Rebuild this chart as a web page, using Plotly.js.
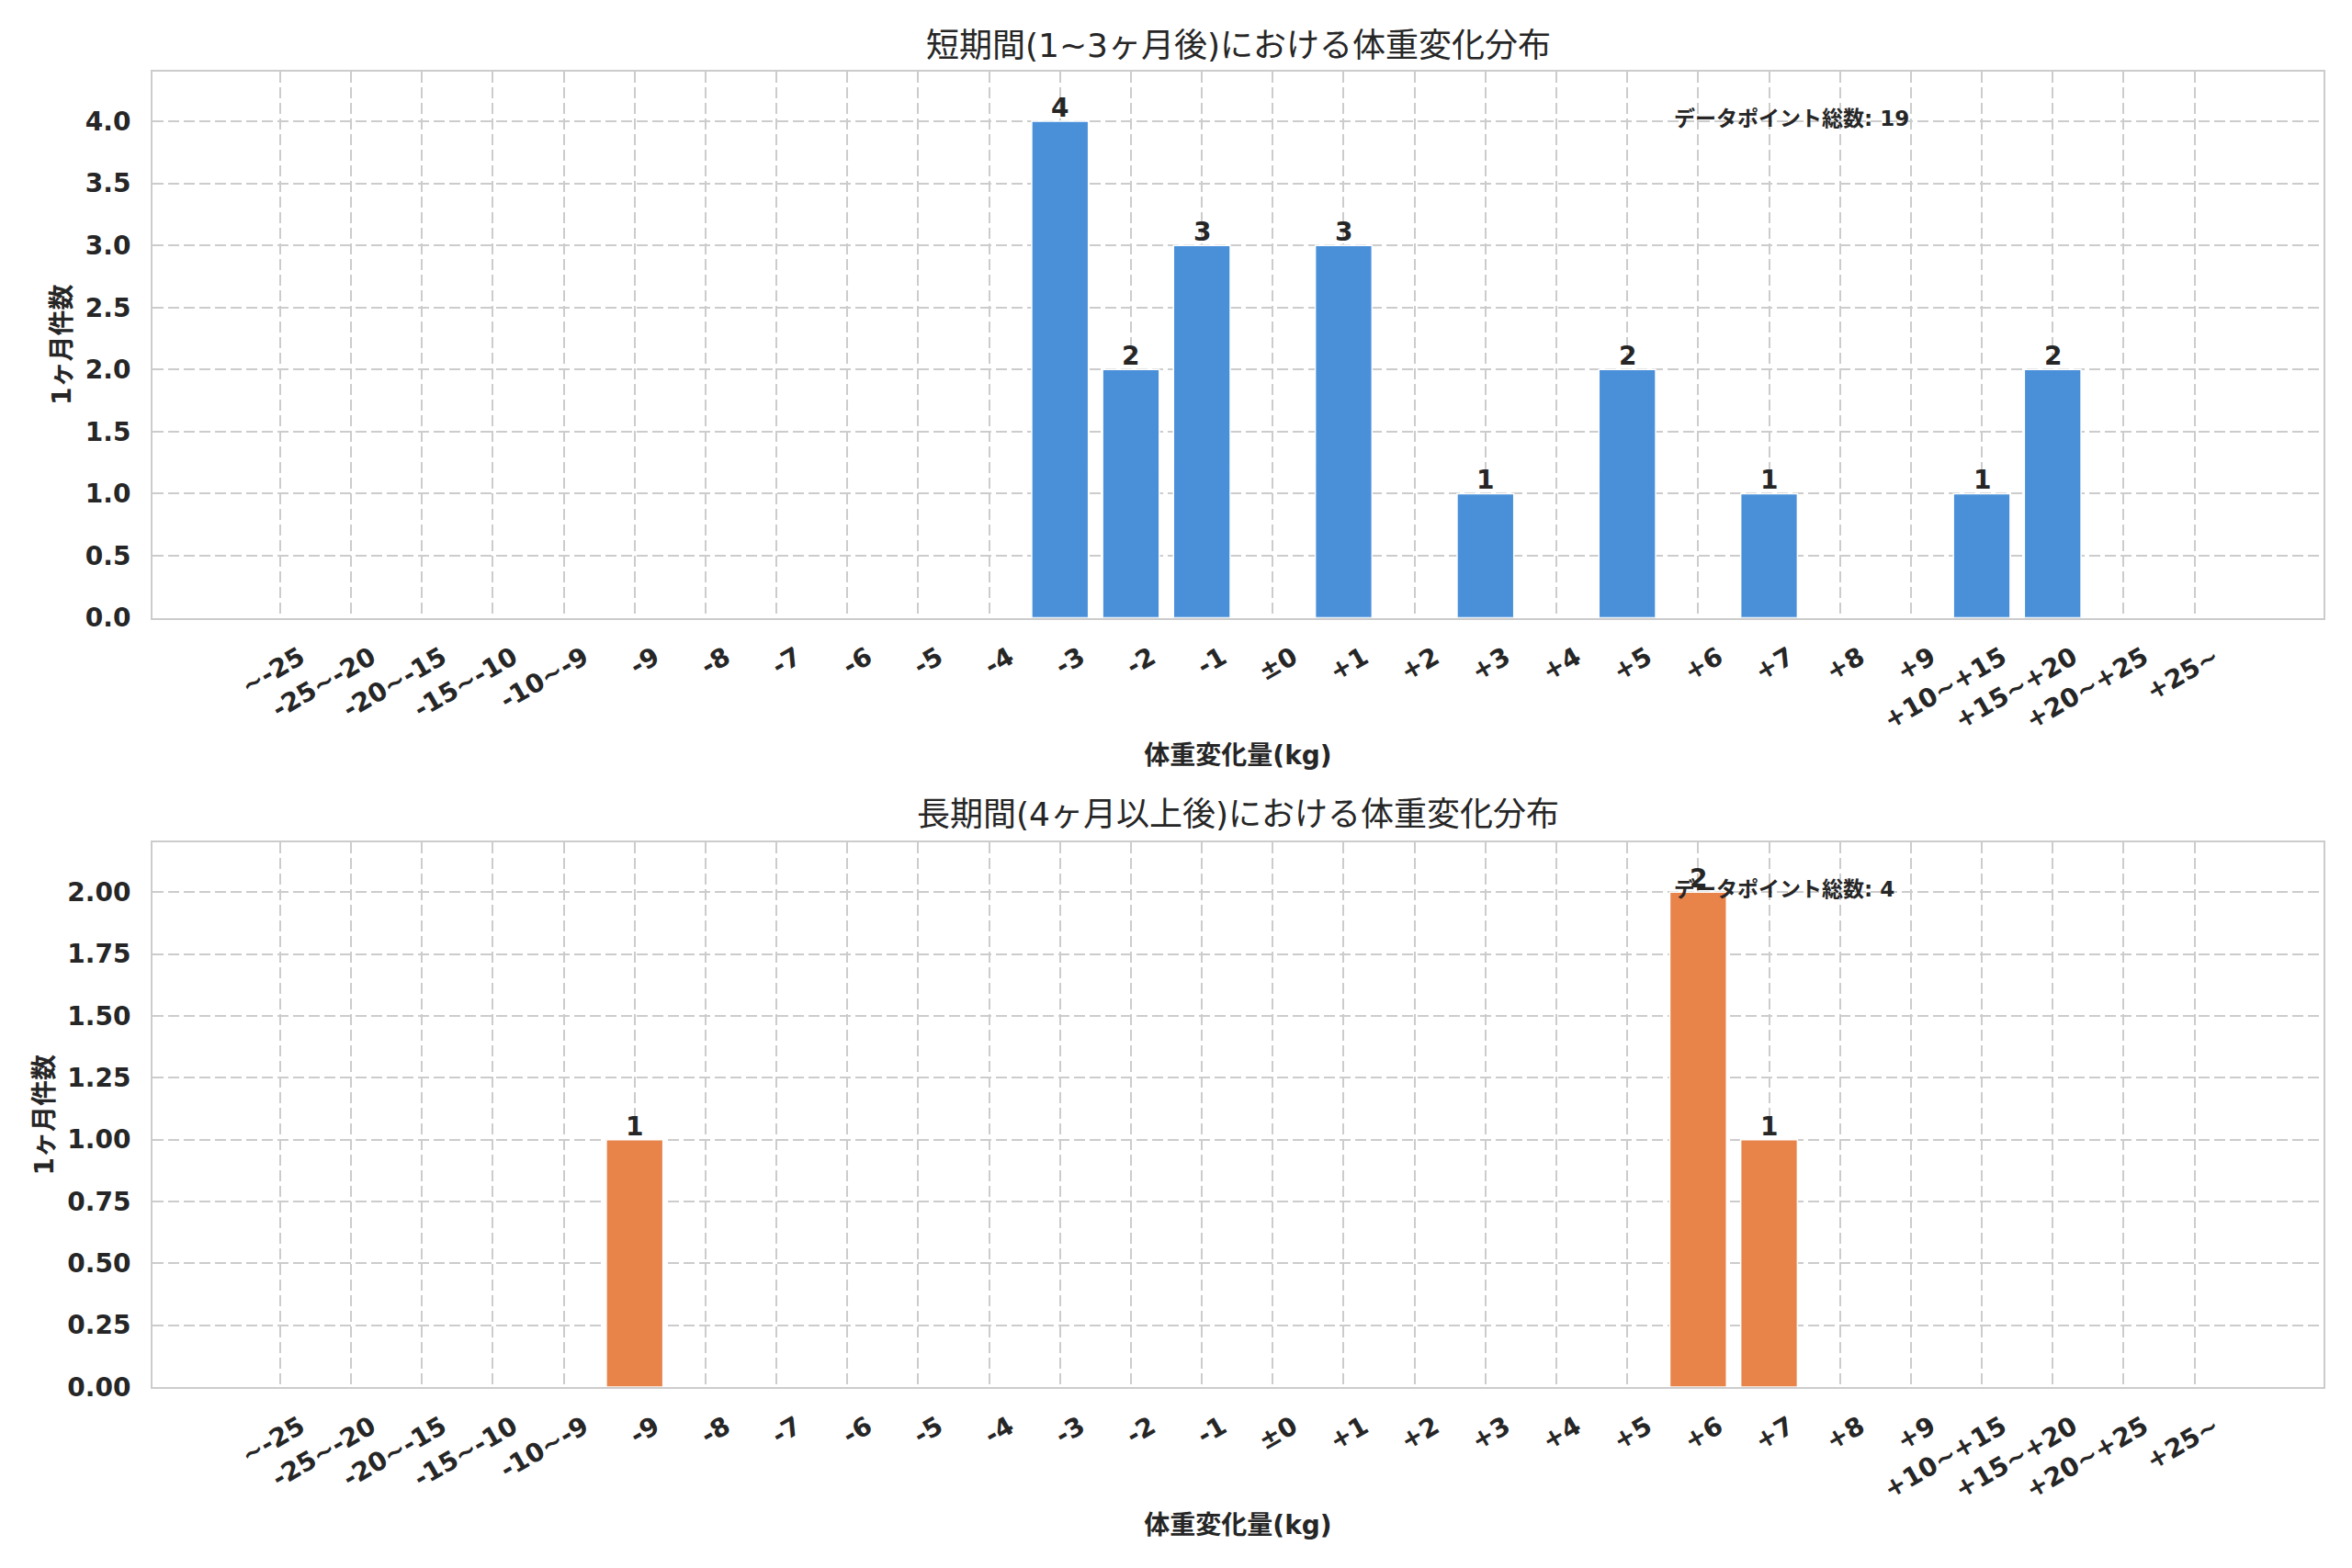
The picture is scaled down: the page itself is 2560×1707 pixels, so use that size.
<!DOCTYPE html>
<html>
<head>
<meta charset="utf-8">
<script src="https://cdn.plot.ly/plotly-3.0.1.min.js"></script>
<style>html,body{margin:0;padding:0;background:#fff;}#chart{width:2560px;height:1707px;}</style>
</head>
<body>
<div id="chart"></div>
<script>
const categories = ["~-25","-25~-20","-20~-15","-15~-10","-10~-9","-9","-8","-7","-6","-5","-4","-3","-2","-1","±0","+1","+2","+3","+4","+5","+6","+7","+8","+9","+10~+15","+15~+20","+20~+25","+25~"];
const shortTermCounts = [0,0,0,0,0,0,0,0,0,0,0,4,2,3,0,3,0,1,0,2,0,1,0,0,1,2,0,0];
const longTermCounts  = [0,0,0,0,0,1,0,0,0,0,0,0,0,0,0,0,0,0,0,0,2,1,0,0,0,0,0,0];
const titleShort = "短期間(1~3ヶ月後)における体重変化分布";
const titleLong = "長期間(4ヶ月以上後)における体重変化分布";
const xLabel = "体重変化量(kg)";
const yLabel = "1ヶ月件数";
const statsLabel = "データポイント総数";

const FONT = "DejaVu Sans, Noto Sans CJK JP, sans-serif";
const TXT = "#262626";
const GRID = "#cccccc";
const sum = a => a.reduce((s, v) => s + v, 0);

function barTrace(vals, color, xa, ya) {
  return {
    type: "bar", x: categories, y: vals, xaxis: xa, yaxis: ya,
    width: 0.8,
    marker: {color: color, line: {color: "#ffffff", width: 1.5}},
    hoverinfo: "x+y", showlegend: false
  };
}
// value labels above the bars; x is the category's index on the category axis
function valueLabels(vals, xa, ya) {
  const out = [];
  vals.forEach((v, i) => {
    if (v > 0) out.push({
      text: String(v), x: i, y: v, xref: xa, yref: ya,
      xanchor: "center", yanchor: "bottom", yshift: -4, showarrow: false,
      font: {family: FONT, size: 28, color: TXT, weight: "bold"}
    });
  });
  return out;
}

const tickFont = {family: FONT, size: 28, color: TXT, weight: "bold"};
const titleFont = {family: FONT, size: 28, color: TXT, weight: "bold"};

function xAxis(anchor) {
  return {
    anchor: anchor, type: "category", range: [-1.8, 28.82],
    tickangle: -30, tickfont: tickFont, ticks: "",
    ticklabelstandoff: 14, ticklabelshift: 22,
    showgrid: true, gridcolor: GRID, gridwidth: 2, griddash: "12px,5px",
    showline: true, linecolor: GRID, linewidth: 2, mirror: true,
    zeroline: false, automargin: false,
    title: {text: xLabel, font: titleFont, standoff: 13}
  };
}
function yAxis(anchor, domain, range, dtick, fmt) {
  return {
    anchor: anchor, domain: domain, range: range, dtick: dtick, tick0: 0,
    tickformat: fmt, tickfont: tickFont, ticks: "", ticklabelstandoff: 16,
    showgrid: true, gridcolor: GRID, gridwidth: 2, griddash: "12px,5px",
    showline: true, linecolor: GRID, linewidth: 2, mirror: true,
    zeroline: false, automargin: false,
    title: {text: yLabel, font: titleFont, standoff: 7}
  };
}

const data = [
  barTrace(shortTermCounts, "#4a90d9", "x", "y"),
  barTrace(longTermCounts, "#e8834a", "x2", "y2")
];

const layout = {
  width: 2560, height: 1707,
  margin: {l: 166, r: 31, t: 78, b: 197},
  paper_bgcolor: "#ffffff", plot_bgcolor: "#ffffff",
  bargap: 0.2,
  xaxis: xAxis("y"),
  yaxis: yAxis("x", [0.5848, 1], [0, 4.4], 0.5, ".1f"),
  xaxis2: xAxis("y2"),
  yaxis2: yAxis("x2", [0, 0.4138], [0, 2.2], 0.25, ".2f"),
  annotations: [
    {text: titleShort, xref: "paper", yref: "paper", x: 0.5, y: 1.0202, xanchor: "center", yanchor: "middle", showarrow: false, font: {family: FONT, size: 36, color: TXT}},
    {text: titleLong, xref: "paper", yref: "paper", x: 0.5, y: 0.4353, xanchor: "center", yanchor: "middle", showarrow: false, font: {family: FONT, size: 36, color: TXT}},
    {text: statsLabel + ": " + sum(shortTermCounts), xref: "x domain", yref: "y domain", x: 0.7, y: 0.9, xanchor: "left", yanchor: "bottom", yshift: -7, showarrow: false, font: {family: FONT, size: 23, color: TXT, weight: "bold"}},
    {text: statsLabel + ": " + sum(longTermCounts), xref: "x2 domain", yref: "y2 domain", x: 0.7, y: 0.9, xanchor: "left", yanchor: "bottom", yshift: -6, showarrow: false, font: {family: FONT, size: 23, color: TXT, weight: "bold"}}
  ].concat(valueLabels(shortTermCounts, "x", "y"), valueLabels(longTermCounts, "x2", "y2"))
};

Plotly.newPlot("chart", data, layout, {displayModeBar: false, staticPlot: true});
</script>
</body>
</html>
